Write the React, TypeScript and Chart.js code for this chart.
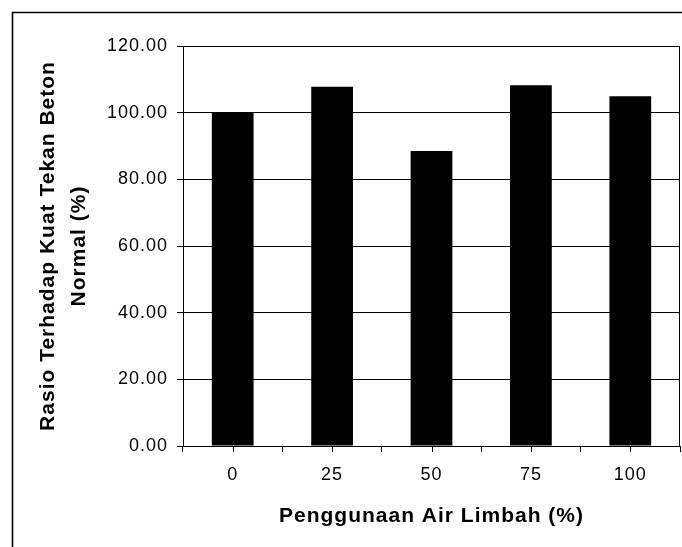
import React, { useEffect, useRef } from "react";
import { Chart, registerables } from "chart.js";

Chart.register(...registerables);

const categories: string[] = ["0", "25", "50", "75", "100"];
const ratioValues: number[] = [100.0, 107.8, 88.5, 108.2, 104.9];
const yMin = 0;
const yMax = 120;
const yStep = 20;
const xTitle = "Penggunaan Air Limbah (%)";
const yTitle: string[] = ["Rasio Terhadap Kuat Tekan Beton", "Normal (%)"];

const FONT = "'Liberation Sans', Arial, sans-serif";

const spacingPlugin = {
  id: "letterSpacing",
  beforeLayout(chart: any) {
    (chart.ctx as any).letterSpacing = "1px";
  },
  beforeDraw(chart: any) {
    (chart.ctx as any).letterSpacing = "1px";
  },
};

const decorPlugin = {
  id: "decor",
  afterDraw(chart: any) {
    const { ctx, chartArea } = chart;
    const xs = chart.scales.x;
    ctx.save();
    ctx.strokeStyle = "#000";
    // outer frame (left and top edges visible)
    ctx.lineWidth = 1.6;
    ctx.beginPath();
    ctx.moveTo(12.5, chart.height + 2);
    ctx.lineTo(12.5, 12.5);
    ctx.lineTo(chart.width + 2, 12.5);
    ctx.stroke();
    // plot border top and right
    ctx.lineWidth = 1;
    ctx.beginPath();
    const t = Math.round(chartArea.top) + 0.5;
    const r = Math.round(chartArea.right) - 0.5;
    ctx.moveTo(chartArea.left, t);
    ctx.lineTo(r, t);
    ctx.lineTo(r, chartArea.bottom);
    ctx.stroke();
    // center tick marks on x axis
    ctx.beginPath();
    for (let i = 0; i < categories.length; i++) {
      const x = Math.round(xs.getPixelForValue(i)) + 0.5;
      ctx.moveTo(x, chartArea.bottom);
      ctx.lineTo(x, chartArea.bottom + 6);
    }
    ctx.stroke();
    ctx.restore();
  },
};

export default function App() {
  const ref = useRef<HTMLCanvasElement | null>(null);
  useEffect(() => {
    if (!ref.current) return;
    Chart.defaults.color = "#000";
    const chart = new Chart(ref.current, {
      type: "bar",
      data: {
        labels: categories,
        datasets: [
          {
            data: ratioValues,
            backgroundColor: "#000",
            borderWidth: 0,
            barPercentage: 0.42,
            categoryPercentage: 1,
          },
        ],
      },
      options: {
        animation: false,
        responsive: true,
        maintainAspectRatio: false,
        layout: { padding: { top: 46, right: 2, left: 0, bottom: 0 } },
        plugins: {
          legend: { display: false },
          tooltip: { enabled: false },
        },
        scales: {
          x: {
            offset: true,
            afterFit: (s: any) => {
              s.height = 101;
            },
            grid: {
              display: true,
              drawOnChartArea: false,
              drawTicks: true,
              tickLength: 6,
              color: "#000",
              offset: true,
            },
            border: { display: true, color: "#000", width: 1 },
            ticks: {
              color: "#000",
              padding: 12,
              font: { family: FONT, size: 18 },
            },
            title: {
              display: true,
              text: xTitle,
              color: "#000",
              font: { family: FONT, size: 21, weight: "bold", lineHeight: "26px" },
              padding: { top: 0, bottom: 18 },
            },
          },
          y: {
            min: yMin,
            max: yMax,
            afterFit: (s: any) => {
              s.width = 183;
            },
            grid: {
              color: "#000",
              lineWidth: 1,
              drawTicks: true,
              tickLength: 6,
            },
            border: { display: true, color: "#000", width: 1 },
            ticks: {
              stepSize: yStep,
              color: "#000",
              padding: 9,
              font: { family: FONT, size: 18 },
              callback: (v: any) => Number(v).toFixed(2),
            },
            title: {
              display: true,
              text: yTitle,
              color: "#000",
              font: { family: FONT, size: 21, weight: "bold", lineHeight: "31px" },
              padding: { top: 33, bottom: 0 },
            },
          },
        },
      },
      plugins: [spacingPlugin, decorPlugin],
    } as any);
    return () => chart.destroy();
  }, []);
  return (
    <div style={{ position: "fixed", left: 0, top: 0, width: 682, height: 547, background: "#fff" }}>
      <canvas ref={ref} />
    </div>
  );
}
